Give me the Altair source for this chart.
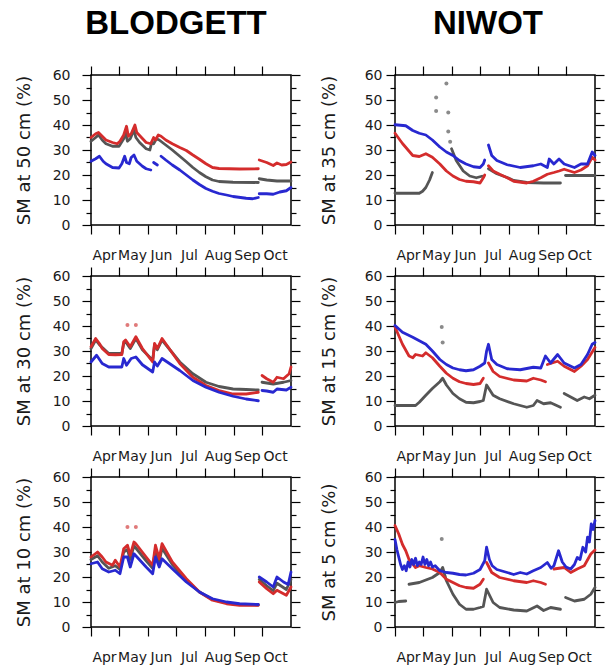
import altair as alt
import pandas as pd

# ---------------- axes / labels ----------------
MONTHS = ["Apr", "May", "Jun", "Jul", "Aug", "Sep", "Oct"]
MONTH_START_DOY = [91, 121, 152, 182, 213, 244, 274]
X_DOMAIN = [91, 305]
Y_MAJOR = [0, 10, 20, 30, 40, 50, 60]
Y_MINOR = [5, 15, 25, 35, 45, 55]
SITES = ["BLODGETT", "NIWOT"]
YTITLES = ["SM at 50 cm (%)", "SM at 35 cm (%)",
           "SM at 30 cm (%)", "SM at 15 cm (%)",
           "SM at 10 cm (%)", "SM at 5 cm (%)"]

RED = "#d42c2c"
BLUE = "#2828d0"
GREY = "#555555"

# ---------------- data: (day of year, soil moisture %) per segment ----------------
B50_GREY = [
    [(91, 33.5), (96, 35), (99, 36), (103, 34), (107, 32.5), (114, 31.5), (121, 31.5), (126, 34.5), (128, 37),
     (130, 33.5), (133, 34.5), (137, 38), (139, 35), (143, 33), (150, 30.5), (154, 30), (156, 33), (158, 32.5),
     (161, 34.5), (164, 34), (171, 32), (178, 30), (186, 27.5), (193, 25.3), (200, 23), (207, 21), (214, 19.3),
     (221, 18), (228, 17.4), (243, 17.1), (270, 17)],
    [(271, 18.5), (279, 18), (290, 17.6), (305, 17.6)],
]
B50_RED = [
    [(91, 35), (96, 36.5), (99, 37), (103, 35.5), (107, 34), (114, 33), (119, 32.5), (122, 33.5), (126, 36),
     (129, 39.5), (131, 35.5), (134, 36.5), (138, 40), (140, 37), (145, 35), (150, 33), (155, 32.5), (158, 35),
     (160, 34), (163, 36), (166, 35.5), (171, 34), (178, 32.5), (186, 31), (193, 29.8), (200, 28), (207, 26.3),
     (214, 24.5), (221, 23), (228, 22.6), (250, 22.4), (270, 22.5)],
    [(271, 26), (279, 25), (286, 23.8), (290, 24.8), (295, 24), (300, 24.2), (305, 25.2)],
]
B50_BLUE = [
    [(91, 25.5), (96, 26.5), (100, 27.5), (104, 25.5), (107, 24.5), (114, 23), (121, 22.8), (124, 24.5),
     (127, 27.5), (129, 25), (132, 24.5), (134, 27), (137, 28), (140, 25.5), (146, 23.5), (150, 22.5), (155, 22)],
    [(158, 25), (160, 24.5), (162, 24)],
    [(166, 27.5), (171, 26), (178, 24), (186, 22), (193, 20), (200, 18), (207, 16.2), (214, 14.6), (221, 13.5),
     (228, 12.6), (236, 12), (243, 11.4), (257, 10.7), (264, 10.5), (270, 11)],
    [(271, 12.5), (279, 12.5), (286, 12.3), (293, 13.2), (300, 13.7), (305, 15)],
]
B50_OUT = []

B30_GREY = [
    [(91, 31), (96, 34.4), (100, 32.5), (110, 29), (124, 29), (126, 33), (128, 33.7), (133, 31), (139, 35),
     (146, 30.5), (157, 26.3), (159, 32.5), (162, 30.5), (167, 34.4), (186, 25.6), (200, 20.9), (214, 17.5),
     (228, 15.8), (243, 14.8), (257, 14.6), (270, 14.4)],
    [(274, 17.5), (286, 16.8), (297, 17.5), (305, 18.2)],
]
B30_RED = [
    [(91, 31.7), (96, 35), (100, 33), (103, 31), (110, 28.6), (117, 28.5), (124, 28.6), (126, 33.7), (128, 34.4),
     (133, 31.7), (139, 35.7), (146, 31), (157, 25.6), (159, 33), (162, 31), (167, 35), (186, 25), (200, 19.5),
     (214, 16.2), (228, 14.2), (243, 12.8), (257, 12.8), (270, 13.5)],
    [(274, 20.2), (279, 18.9), (286, 17.5), (290, 19.5), (297, 18.9), (303, 20.9), (305, 23.6)],
]
B30_BLUE = [
    [(91, 25.6), (97, 28.3), (103, 25), (110, 23.6), (124, 23.6), (126, 27), (129, 24.3), (134, 27), (139, 27.6),
     (146, 24.5), (157, 21.6), (159, 25.6), (162, 24), (167, 27), (186, 22.2), (200, 18.2), (214, 15.5),
     (228, 13.5), (243, 11.9), (257, 10.8), (270, 10.1)],
    [(274, 14.2), (279, 14), (286, 13.5), (290, 14.8), (300, 14.4), (305, 15.5)],
]
B30_OUT = [(130, 40.4), (139, 40.4)]

B10_GREY = [
    [(91, 27), (98, 28.5), (103, 26), (110, 23.5), (117, 24.5), (122, 23), (126, 30), (130, 31), (133, 27),
     (137, 32.5), (150, 26.5), (157, 23.5), (160, 31), (164, 26), (167, 31.5), (178, 25), (193, 18.7), (207, 14),
     (221, 11), (236, 9.6), (250, 9), (270, 8.8)],
    [(271, 19), (279, 16.5), (286, 14.5), (290, 17.5), (300, 15), (305, 19)],
]
B10_RED = [
    [(91, 28), (98, 30), (103, 28), (107, 26), (114, 24.7), (117, 26.7), (122, 24), (126, 31.3), (130, 32.7),
     (133, 28.7), (137, 34), (139, 33.3), (150, 28), (157, 24.7), (160, 32.7), (164, 27.3), (167, 33.3),
     (178, 26), (193, 19.3), (207, 14), (221, 10.7), (236, 9.3), (250, 8.7), (270, 8.7)],
    [(271, 18), (279, 15.3), (286, 13.3), (290, 14.7), (300, 12.7), (305, 16)],
]
B10_BLUE = [
    [(91, 25.3), (98, 26), (103, 23.3), (110, 22), (117, 22.7), (122, 21.3), (126, 28), (130, 28), (133, 24),
     (137, 29.3), (150, 24), (157, 21.3), (160, 28), (164, 24), (167, 27.3), (178, 23.3), (193, 18), (207, 14),
     (221, 11.3), (236, 10), (250, 9.3), (270, 9)],
    [(271, 20), (279, 18), (286, 16), (290, 20), (297, 18), (302, 17), (305, 22)],
]
B10_OUT = [(130, 40), (139, 40)]

N35_GREY = [
    [(91, 12.7), (117, 12.7), (120.5, 13.5), (124, 15), (128, 18), (131, 21)],
    [(151.5, 30.5), (156.5, 25.8), (164, 21.6), (171, 19.6), (178, 18.9), (184, 19.5)],
    [(191, 22.5), (200, 20.5), (211, 19), (218, 17.8), (232, 17), (250, 16.8), (268, 16.8)],
    [(273.5, 19.8), (290, 19.8), (305, 19.8)],
]
N35_RED = [
    [(91, 36.7), (99, 32.6), (110, 27.8), (117, 27.4), (124, 28.5), (131, 27.1), (139, 24.4), (146, 21.6),
     (153, 19.6), (160, 18.2), (167, 17.5), (175, 17.3), (182, 16.8), (185.5, 18.9), (187, 20)],
    [(191, 23.7), (196, 21.6), (203, 20.3), (211, 18.9), (218, 17.5), (232, 16.8), (239, 17.5), (247, 18.9),
     (254, 20.3), (261, 21), (266.5, 21.6), (272, 22.3), (283, 21), (290, 22), (297, 23.7), (302, 27.1),
     (305, 26)],
]
N35_BLUE = [
    [(91, 40.1), (102.5, 39.7), (110, 37.8), (117, 36.7), (124, 36), (131, 34), (139, 31.2), (146, 29.2),
     (153, 27.8), (160, 25.8), (167, 24.4), (175, 23.3), (182, 23), (185.5, 24.4), (187, 26)],
    [(191, 32), (194.5, 27.8), (200, 25.8), (211, 24.1), (225, 23), (239, 23.7), (247, 24.4), (254, 23),
     (256, 26.4), (261, 24.4), (266.5, 26.4), (272, 24.4), (283, 23), (290, 24.4), (297, 24.4), (302, 29.2),
     (305, 27.8)],
]
N35_OUT = [(135, 51), (135, 45.6), (146, 56.6), (148, 45), (148, 37.4), (150, 33.3)]

N15_GREY = [
    [(91, 8.2), (113, 8.2), (117, 9.5), (124, 12.3), (131, 15), (139, 17.7), (142, 19.1), (146, 16.4), (153, 13),
     (160, 10.9), (167, 9.5), (175, 9.3), (182, 9.8), (185.5, 10.2), (189, 16.4), (196, 12.3), (203, 10.9),
     (218, 8.9), (232, 7.5), (239, 8.2), (243, 10.2), (250, 8.9), (257.5, 9.3), (268, 7.5)],
    [(272, 13), (279, 11.6), (286, 10.2), (293.5, 11.6), (299, 10.9), (305, 12.3)],
]
N15_RED = [
    [(91, 39.6), (99, 32.7), (106, 28), (110, 27.3), (113, 28.6), (120.5, 28), (124, 29.3), (131, 27.3),
     (139, 23.9), (146, 21.1), (153, 19.1), (160, 17.7), (167, 17), (175, 16.6), (182, 17), (185.5, 19.1)],
    [(191, 25.2), (196, 21.8), (203, 19.8), (218, 18.4), (232, 18), (239, 19.1), (247, 18.4), (252, 17.7)],
    [(254, 24.6), (265, 25.9), (272, 23.9), (283, 21.8), (290, 23.9), (297, 26.6), (305, 31.4)],
]
N15_BLUE = [
    [(91, 40.2), (99, 37.5), (110, 35.5), (117, 34.1), (124, 32.7), (131, 30), (139, 26.6), (146, 24.6),
     (153, 23.2), (160, 22.5), (167, 22.1), (175, 22.5), (182, 23.9), (187, 25.2), (189, 30), (191, 32.7),
     (194.5, 26.6), (200, 24.6), (211, 22.9), (225, 22.5), (239, 23.5), (247, 23.2), (252, 28), (257.5, 25.2),
     (265, 28.6), (272, 25.2), (283, 23.2), (290, 24.6), (297, 28.6), (302, 32.7), (305, 33.4)],
]
N15_OUT = [(141, 39.6), (142, 33.4)]

N5_GREY = [
    [(91, 9.8), (95, 10.2), (102.5, 10.4)],
    [(106, 17.1), (117, 17.8), (131, 19.8), (139, 21.8), (142, 23.8), (146, 18.5), (153, 13.1), (160, 9.1),
     (167, 7.1), (175, 7.1), (182, 7.8), (185.5, 8.2), (189, 15.1), (196, 9.8), (203, 7.8), (218, 6.8),
     (232, 6.4), (243, 8.4), (250, 6.6), (257.5, 7.8), (268, 7.1)],
    [(273.5, 11.8), (283, 10.4), (293.5, 11.1), (300.5, 13.1), (305, 15.8)],
]
N5_RED = [
    [(91, 40.6), (95, 37.2), (99, 33), (102.5, 30.5), (106, 27), (110, 25.2), (113, 23.8), (117, 24.5),
     (124, 23.8), (131, 23.2), (139, 21.8), (146, 19.1), (153, 17.8), (160, 16.5), (167, 15.8), (175, 15.5),
     (182, 17.1), (185.5, 19.1)],
    [(189, 25.8), (194.5, 21.8), (203, 19.8), (218, 18.5), (232, 17.8), (239, 18.5), (247, 17.8), (252, 17.1)],
    [(261, 23.2), (272, 23.8), (279, 21.8), (286, 23.2), (293.5, 24.5), (300.5, 29.2), (305, 30.8)],
]
N5_BLUE = [
    [(91, 35), (93, 31), (95, 28), (97, 25), (99, 23), (101, 24.5), (103, 22.5), (105, 26), (107, 24), (109, 27),
     (111, 25), (113, 27.5), (115, 24.5), (117, 26), (119, 25), (121, 28), (123, 25), (125, 27), (127, 24.5),
     (129, 26), (131, 24), (134, 24.5), (139, 22.5), (146, 21.8), (153, 21.5), (160, 21), (167, 20.8),
     (175, 21.5), (182, 23), (187, 26.5), (189, 31.9), (192, 27), (195, 24.5), (200, 23), (211, 21.8),
     (218, 21), (225, 21.8), (232, 21.2), (239, 22.5), (247, 23.8), (254, 25.8), (258, 23.5), (261, 24.5),
     (266, 30.5), (270, 26), (274, 24), (279, 23.2), (283, 25), (286, 27.8), (289, 27), (292, 31.9), (295, 30),
     (297, 35.9), (299, 34), (301, 41.2), (303, 39), (305, 42.6)],
]
N5_OUT = [(141, 35.2)]

PANELS = [
    dict(grey=B50_GREY, red=B50_RED, blue=B50_BLUE, out=B50_OUT, out_color="#e07a7a", col=0),
    dict(grey=N35_GREY, red=N35_RED, blue=N35_BLUE, out=N35_OUT, out_color="#8a8a8a", col=1),
    dict(grey=B30_GREY, red=B30_RED, blue=B30_BLUE, out=B30_OUT, out_color="#e07a7a", col=0),
    dict(grey=N15_GREY, red=N15_RED, blue=N15_BLUE, out=N15_OUT, out_color="#8a8a8a", col=1),
    dict(grey=B10_GREY, red=B10_RED, blue=B10_BLUE, out=B10_OUT, out_color="#e07a7a", col=0),
    dict(grey=N5_GREY, red=N5_RED, blue=N5_BLUE, out=N5_OUT, out_color="#8a8a8a", col=1),
]


def seg_df(segments):
    rows = []
    for k, seg in enumerate(segments):
        for d, v in seg:
            rows.append({"doy": d, "sm": v, "seg": k})
    return pd.DataFrame(rows, columns=["doy", "sm", "seg"])


month_expr = " : ".join(
    f"datum.value == {d} ? '{m}'" for d, m in zip(MONTH_START_DOY, MONTHS)
) + " : ''"

xs = alt.Scale(domain=X_DOMAIN, nice=False, zero=False)
ys = alt.Scale(domain=[0, 60], nice=False)


def make_panel(i, p):
    col = p["col"]
    lab_pad = 12 if col == 0 else 4
    title_pad = 19 if col == 0 else 26
    x_bottom = alt.Axis(orient="bottom", values=MONTH_START_DOY, labelExpr=month_expr, labelOffset=13,
                        labelFlush=False, labelOverlap=False, labelPadding=14, tickSize=9,
                        title=None, grid=False, domain=False)
    x_top = alt.Axis(orient="top", values=MONTH_START_DOY, labels=False, tickSize=9,
                     title=None, grid=False, domain=False)
    y_left = alt.Axis(orient="left", values=Y_MAJOR, tickSize=9, labelPadding=lab_pad, labelFlush=False,
                      title=YTITLES[i], titlePadding=title_pad, grid=False, domain=False)
    y_right = alt.Axis(orient="right", values=Y_MAJOR, labels=False, tickSize=9,
                       title=None, grid=False, domain=False)
    y_left_minor = alt.Axis(orient="left", values=Y_MINOR, labels=False, tickSize=5,
                            title=None, grid=False, domain=False)
    y_right_minor = alt.Axis(orient="right", values=Y_MINOR, labels=False, tickSize=5,
                             title=None, grid=False, domain=False)

    def line(segs, color, xa, ya):
        return alt.Chart(seg_df(segs)).mark_line(
            color=color, strokeWidth=2.8, strokeJoin="round", strokeCap="round"
        ).encode(
            x=alt.X("doy:Q", scale=xs, axis=xa),
            y=alt.Y("sm:Q", scale=ys, axis=ya),
            detail="seg:N",
        )

    grey = line(p["grey"], GREY, x_bottom, y_left)
    red = line(p["red"], RED, x_top, y_right)
    blue = line(p["blue"], BLUE, None, y_left_minor)
    if p["out"]:
        odf = pd.DataFrame(p["out"], columns=["doy", "sm"])
        opac = 1.0
    else:
        odf = seg_df(p["grey"])[["doy", "sm"]]
        opac = 0.0
    pts = alt.Chart(odf).mark_circle(size=16, color=p["out_color"], opacity=opac).encode(
        x=alt.X("doy:Q", scale=xs, axis=None),
        y=alt.Y("sm:Q", scale=ys, axis=y_right_minor),
    )
    layer = alt.layer(grey, red, blue, pts).resolve_axis(x="independent", y="independent")
    props = dict(width=200, height=150)
    if i < 2:
        props["title"] = alt.TitleParams(
            text=SITES[col], font="Liberation Sans", fontSize=33, fontWeight="bold", color="black",
            anchor="middle", frame="group", dx=-15 if col == 0 else -7, offset=24,
        )
    return layer.properties(**props)


panels = [make_panel(i, p) for i, p in enumerate(PANELS)]

chart = alt.concat(
    *panels, columns=2, spacing={"row": 51, "column": 104}, bounds="flush"
).properties(
    padding={"left": 14, "top": 7, "right": 2, "bottom": 2},
    background="white",
).configure_view(
    stroke="black", strokeWidth=1.5
).configure_axis(
    labelFont="DejaVu Sans", labelFontSize=14, labelColor="#1a1a1a",
    tickColor="black", tickWidth=1.2,
    titleFont="DejaVu Sans", titleFontSize=18, titleFontWeight="normal", titleColor="#1a1a1a",
)

chart.save("out.html", embed_options={"renderer": "svg", "actions": False})
